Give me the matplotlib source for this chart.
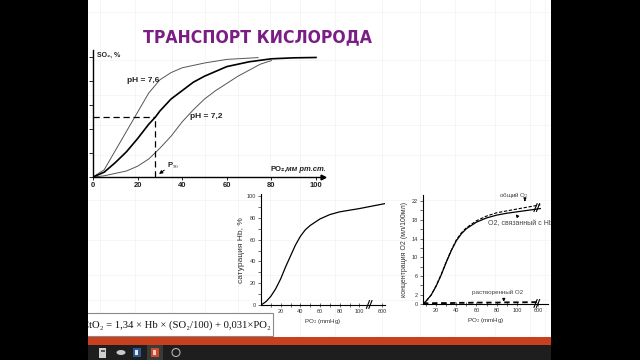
import numpy as np
import matplotlib
matplotlib.use('Agg')
import matplotlib.pyplot as plt
from matplotlib import font_manager
from matplotlib.patches import Rectangle, Circle, Ellipse

plt.rcParams['font.family'] = ['Liberation Sans', 'DejaVu Sans']
plt.rcParams['mathtext.fontset'] = 'stix'

# --- main chart: HbO2 dissociation curves at different pH
po2_76 = [0, 5, 10, 15, 20, 25, 30, 35, 40, 50, 60, 74]
so2_76 = [0, 6, 22, 38, 54, 70, 81, 87, 91, 95, 98, 99.5]
po2_74 = [0, 5, 10, 15, 20, 25, 28, 30, 35, 40, 45, 50, 60, 70, 80, 90, 100]
so2_74 = [0, 4, 12, 21, 32, 44, 50, 55, 65, 72, 79, 84, 92, 96, 98.5, 99.3, 99.6]
po2_72 = [0, 5, 10, 15, 20, 25, 30, 35, 40, 45, 50, 55, 60, 65, 70, 75, 80]
so2_72 = [0, 1, 3, 5, 9, 15, 24, 34, 46, 56, 65, 72, 78, 84, 89, 94, 97]
p50 = 28
main_ticks = [0, 20, 40, 60, 80, 100]

# --- lower middle: Hb saturation
hb_po2 = [0, 5, 10, 15, 20, 25, 30, 35, 40, 45, 50, 60, 70, 80, 90, 100, 700]
hb_sat = [0, 3, 8, 15, 24, 35, 45, 55, 63, 69, 73, 79, 83, 85.5, 87, 88.5, 93]
hb_yticks = [0, 20, 40, 60, 80, 100]

# --- lower right: O2 content
c_po2 = [7, 10, 15, 20, 25, 30, 35, 40, 45, 50, 60, 70, 80, 90, 100, 700]
c_bound = [0, 0.6, 1.9, 3.8, 6.2, 8.9, 11.4, 13.5, 15.0, 16.1, 17.5, 18.4, 19.0, 19.4, 19.7, 20.4]
c_total = [0, 0.6, 1.9, 3.9, 6.3, 9.0, 11.5, 13.7, 15.2, 16.3, 17.8, 18.8, 19.5, 19.9, 20.3, 21.2]
c_dissolved = [0.15, 0.15, 0.15, 0.2, 0.2, 0.2, 0.2, 0.25, 0.25, 0.25, 0.3, 0.3, 0.3, 0.35, 0.35, 0.4]
c_yticks = list(range(0, 23, 2))
c_ylabels = ['0', '2', '', '6', '', '10', '', '14', '', '18', '', '22']
low_xticks = [20, 40, 60, 80, 100, 600]
low_xminor = [10, 30, 50, 70, 90]

W, H = 640, 360
fig = plt.figure(figsize=(W / 100, H / 100), dpi=100)
fig.patch.set_facecolor('black')


def px_axes(x0, ybot, x1, ytop, **kw):
    return fig.add_axes([x0 / W, 1 - ybot / H, (x1 - x0) / W, (ybot - ytop) / H], **kw)


def broken_scale(k):
    fwd = lambda x: np.where(np.asarray(x) <= 110, x, 110 + (np.asarray(x) - 110) * k)
    inv = lambda u: np.where(np.asarray(u) <= 110, u, 110 + (np.asarray(u) - 110) / k)
    return fwd, inv


def fit_width(txt, width_px):
    fig.canvas.draw()
    bb = txt.get_window_extent(fig.canvas.get_renderer())
    txt.set_fontsize(txt.get_fontsize() * width_px / bb.width)


# background slide
bg = px_axes(0, 360, 640, 0, zorder=-10)
bg.set_xlim(0, W)
bg.set_ylim(H, 0)
bg.axis('off')
bg.add_patch(Rectangle((87, 0), 465, 337, color='white', lw=0))
for gx in [100, 135, 172, 205, 238, 270, 300, 335, 382, 420, 455, 495, 530, 545]:
    bg.plot([gx, gx], [0, 337], color='#f4f4f4', lw=0.6)
for gy in [12, 60, 95, 125, 155, 200, 240, 275, 300]:
    bg.plot([87, 551], [gy, gy], color='#f5f5f5', lw=0.6)

# main chart
ax = px_axes(93, 177, 322.7, 49.8)
ax.set_facecolor('none')
ax.plot(po2_76, so2_76, color='#555555', lw=0.7)
ax.plot(po2_72, so2_72, color='#555555', lw=0.7)
ax.plot(po2_74, so2_74, color='black', lw=1.2)
ax.plot([0, p50], [50, 50], color='black', lw=0.9, ls=(0, (5, 3)))
ax.plot([p50, p50], [0, 50], color='black', lw=0.9, ls=(0, (5, 3)))
ax.annotate('', xy=(p50 + 0.6, 1.2), xytext=(33, 7),
            arrowprops=dict(arrowstyle='-|>', color='black', lw=0.7, mutation_scale=5))
ax.text(33.2, 7.5, 'P$_{50}$', fontsize=5.5, fontweight='bold', color='#222')
ax.text(15.2, 80, 'pH = 7,6', fontsize=6, fontweight='bold', color='#222', va='center')
ax.text(43.5, 50, 'pH = 7,2', fontsize=6, fontweight='bold', color='#222', va='center')
ax.text(1.8, 104, 'SO₂, %', fontsize=5, fontweight='bold', color='#222', va='top')
ax.text(79.4, 6, 'PO₂,', fontsize=5.5, fontweight='bold', color='#222', va='center')
ax.text(86.5, 6, 'мм рт.ст.', fontsize=5.5, fontweight='bold', fontstyle='italic',
        color='#222', va='center')
ax.set_xlim(0, 103)
ax.set_ylim(0, 106)
ax.set_xticks(main_ticks)
ax.set_yticks(main_ticks)
ax.tick_params(labelsize=5.5, colors='#222', width=0.7, pad=1.5)
ax.tick_params(axis='y', length=3)
ax.tick_params(axis='x', length=2)
for lab in ax.get_xticklabels() + ax.get_yticklabels():
    lab.set_fontweight('bold')
for s in ['top', 'right']:
    ax.spines[s].set_visible(False)
for s in ['left', 'bottom']:
    ax.spines[s].set_linewidth(1.0)
ax.plot([1], [0], marker='>', color='black', ms=3.5, transform=ax.transAxes, clip_on=False)

# lower middle chart
fwd2, inv2 = broken_scale(13 / 490)
a2 = px_axes(261, 305, 385, 194.4)
a2.set_facecolor('none')
a2.set_xscale('function', functions=(fwd2, inv2))
a2.plot(hb_po2, hb_sat, color='black', lw=0.9)
a2.set_xlim(0, 713)
a2.set_ylim(0, 101.5)
a2.set_xticks(low_xticks)
a2.set_xticks(low_xminor, minor=True)
a2.set_yticks(hb_yticks)
a2.set_yticks([10, 30, 50, 70, 90], minor=True)
a2.tick_params(which='both', labelsize=4, colors='#333', width=0.5, length=2, pad=1.5)
a2.tick_params(axis='x', which='both', direction='inout', length=2.5)
a2.set_xlabel('PO$_2$ (mmHg)', fontsize=4.5, color='#333', labelpad=2)
a2.set_ylabel('сатурация Hb, %', fontsize=6, color='#333', labelpad=1)
for s in ['top', 'right']:
    a2.spines[s].set_visible(False)
for s in ['left', 'bottom']:
    a2.spines[s].set_linewidth(0.8)
for dx in (0.0, 0.02):
    a2.plot([0.85 + dx, 0.875 + dx], [-0.03, 0.04], color='black', lw=0.8,
            transform=a2.transAxes, clip_on=False)

# lower right chart
fwd3, inv3 = broken_scale(11 / 490)
a3 = px_axes(423, 304, 547.7, 195)
a3.set_facecolor('none')
a3.set_xscale('function', functions=(fwd3, inv3))
a3.plot(c_po2, c_bound, color='black', lw=0.9)
a3.plot(c_po2, c_total, color='black', lw=0.8, ls=(0, (3, 1.5)))
a3.plot(c_po2, c_dissolved, color='black', lw=1.3, ls=(0, (3, 2)), clip_on=False)
a3.set_xlim(7, 1025)
a3.set_ylim(0, 23.3)
a3.set_xticks(low_xticks)
a3.set_xticks(low_xminor, minor=True)
a3.set_yticks(c_yticks)
a3.set_yticklabels(c_ylabels)
a3.tick_params(which='both', labelsize=4, colors='#333', width=0.5, length=2, pad=1.5)
a3.tick_params(axis='x', which='both', direction='inout', length=2.5)
a3.set_xlabel('PO$_2$ (mmHg)', fontsize=4.5, color='#333', labelpad=2)
a3.set_ylabel('концентрация O2 (мл/100мл)', fontsize=5, color='#333', labelpad=3)
for s in ['top', 'right']:
    a3.spines[s].set_visible(False)
for s in ['left', 'bottom']:
    a3.spines[s].set_linewidth(0.8)
for yb in (0.0, 0.88):
    for dx in (0.0, 0.02):
        a3.plot([0.89 + dx, 0.915 + dx], [yb - 0.03, yb + 0.04], color='black', lw=0.8,
                transform=a3.transAxes, clip_on=False)
a3.text(97, 23.2, 'общий O$_2$', fontsize=4.5, color='#444', ha='center', va='center')
a3.annotate('', xy=(108, 21.4), xytext=(108, 22.8),
            arrowprops=dict(arrowstyle='-|>', color='black', lw=0.7, mutation_scale=4))
a3.text(71, 17.3, 'O2, связанный с Hb', fontsize=5, color='#444', ha='left', va='center')
a3.annotate('', xy=(97, 19.6), xytext=(102, 18.4),
            arrowprops=dict(arrowstyle='-|>', color='black', lw=0.7, mutation_scale=4))
a3.text(81, 2.4, 'растворенный O2', fontsize=4.5, color='#444', ha='center', va='center')
a3.annotate('', xy=(87, 0.5), xytext=(87, 1.6),
            arrowprops=dict(arrowstyle='-|>', color='black', lw=0.7, mutation_scale=4))

# overlay: title, formula, screen frame
ov = px_axes(0, 360, 640, 0, zorder=10)
ov.set_facecolor('none')
ov.set_xlim(0, W)
ov.set_ylim(H, 0)
ov.axis('off')

narrow = [f for f in font_manager.fontManager.ttflist
          if ('Narrow' in f.name or 'Condensed' in f.fname) and f.weight in ('bold', 700)
          and f.style == 'normal']
narrow.sort(key=lambda f: 'Liberation' not in f.name)
if narrow:
    title_prop = font_manager.FontProperties(fname=narrow[0].fname)
else:
    title_prop = font_manager.FontProperties(family='Liberation Sans', weight='bold')
title = ov.text(257.5, 37, 'ТРАНСПОРТ КИСЛОРОДА', fontproperties=title_prop,
                color='#7a1e86', ha='center', va='center')
title.set_fontsize(15.5)
fit_width(title, 229)

ov.add_patch(Rectangle((80, 313), 192.5, 23, facecolor='white', edgecolor='#8a8a8a', lw=0.8, zorder=1))
formula = ov.text(271, 325, 'CtO₂ = 1,34 × Hb × (SO₂/100) + 0,031×PO₂',
                  family=['Liberation Serif', 'DejaVu Serif'],
                  fontsize=10, color='#111', ha='right', va='center', zorder=2)
fit_width(formula, 190)
ov.add_patch(Rectangle((0, 0), 87.5, 360, color='black', lw=0, zorder=5))
ov.add_patch(Rectangle((551, 0), 89, 360, color='black', lw=0, zorder=5))
ov.add_patch(Rectangle((87.5, 337), 463.5, 8, color='#c8401e', lw=0, zorder=5))
ov.add_patch(Rectangle((87.5, 345), 463.5, 15, color='#1e1e1e', lw=0, zorder=5))
ov.add_patch(Rectangle((147, 345), 16, 15, color='#3a3a3a', lw=0, zorder=6))
ov.add_patch(Rectangle((99, 348), 7, 10, color='#cfcfcf', lw=0, zorder=7))
ov.add_patch(Rectangle((100.5, 349.5), 4, 2.5, color='#555555', lw=0, zorder=8))
ov.add_patch(Ellipse((121, 352.5), 9, 5, color='#c8c8c8', lw=0, zorder=7))
ov.add_patch(Rectangle((133, 348), 8, 9, color='#2b5797', lw=0, zorder=7))
ov.add_patch(Rectangle((134.5, 350), 3, 5, color='#e8e8e8', lw=0, zorder=8))
ov.add_patch(Rectangle((151, 348), 8, 9, color='#d04a2a', lw=0, zorder=7))
ov.add_patch(Rectangle((152.5, 350), 3, 5, color='#f0d0c8', lw=0, zorder=8))
ov.add_patch(Circle((176, 352.5), 4, facecolor='none', edgecolor='#b0b0b0', lw=0.8, zorder=7))

fig.savefig('out.png', dpi=100, facecolor=fig.get_facecolor())
